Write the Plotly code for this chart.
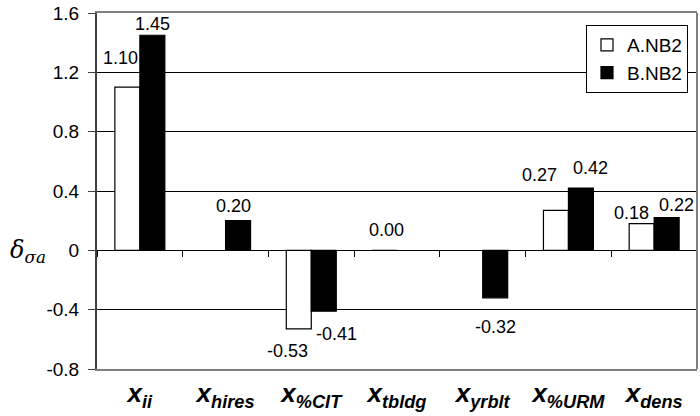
import plotly.graph_objects as go

categories = ["ii", "hires", "%CIT", "tbldg", "yrblt", "%URM", "dens"]
series_a_name = "A.NB2"
series_b_name = "B.NB2"
values_a = [1.10, None, -0.53, 0.00, None, 0.27, 0.18]
values_b = [1.45, 0.20, -0.41, None, -0.32, 0.42, 0.22]
y_ticks = [-0.8, -0.4, 0, 0.4, 0.8, 1.2, 1.6]
y_ticktext = ["-0.8", "-0.4", "0", "0.4", "0.8", "1.2", "1.6"]

# label offsets in pixels (xshift from category centre, yshift from bar end)
offs_a = [(-19, 29), None, (-24, -22), (-11, 20), None, (-29, 35), (-23, 11)]
offs_b = [(13, 11), (8, 15), (25, -23), None, (13, -29.5), (22, 20.5), (22, 13)]

FONT = "Liberation Sans, Arial, sans-serif"

ticktext = [f"<b><i>x</i></b><sub><b><i>{c}</i></b></sub>" for c in categories]

fig = go.Figure()
fig.add_trace(go.Bar(x=categories, y=values_a, name=series_a_name,
                     marker=dict(color="white", line=dict(color="black", width=1.2))))
fig.add_trace(go.Bar(x=categories, y=values_b, name=series_b_name,
                     marker=dict(color="black", line=dict(color="black", width=1.2))))
# helper invisible trace for the boundary ticks at zero line
fig.add_trace(go.Scatter(x=categories, y=[0]*len(categories), xaxis="x2", yaxis="y",
                         mode="markers", marker=dict(opacity=0), showlegend=False,
                         hoverinfo="skip"))

annotations = []
for vals, offs in ((values_a, offs_a), (values_b, offs_b)):
    for c, v, o in zip(categories, vals, offs):
        if v is None or o is None:
            continue
        annotations.append(dict(x=c, y=v, xref="x", yref="y", text=f"{v:.2f}",
                                showarrow=False, xshift=o[0], yshift=o[1],
                                xanchor="center", yanchor="middle",
                                font=dict(family=FONT, size=18, color="black")))
annotations.append(dict(x=-0.115, y=0, xref="paper", yref="y",
                        text="<i>δ</i><sub><i>σa</i></sub>", showarrow=False,
                        xanchor="center", yanchor="middle", yshift=-1,
                        font=dict(family="DejaVu Serif, serif", size=24, color="black")))

fig.update_layout(
    width=700, height=416,
    margin=dict(l=97, r=3, t=13, b=47),
    paper_bgcolor="white", plot_bgcolor="white",
    barmode="group", bargap=0.417, bargroupgap=0,
    font=dict(family=FONT, size=16, color="black"),
    showlegend=True,
    legend=dict(x=0.985, y=0.966, xanchor="right", yanchor="top",
                bgcolor="white", bordercolor="black", borderwidth=1,
                font=dict(family=FONT, size=19), tracegroupgap=2,
                itemwidth=30),
    annotations=annotations,
    xaxis=dict(type="category", categoryorder="array", categoryarray=categories,
               tickvals=categories, ticktext=ticktext,
               tickfont=dict(family=FONT, size=26, color="black"),
               showline=True, mirror=True, linecolor="#808080", linewidth=2,
               ticks="", showgrid=False, zeroline=False),
    xaxis2=dict(type="category", overlaying="x", matches="x", anchor="free",
                position=1/3, side="bottom", tickson="boundaries",
                ticks="outside", ticklen=6, tickcolor="black", tickwidth=1,
                showticklabels=False, showline=False, showgrid=False, zeroline=False),
    yaxis=dict(range=[-0.8, 1.6], tickvals=y_ticks, ticktext=y_ticktext,
               tickfont=dict(family=FONT, size=19, color="black"),
               showgrid=True, gridcolor="black", gridwidth=1,
               zeroline=True, zerolinecolor="black", zerolinewidth=1.2,
               showline=True, linecolor="#404040", linewidth=2,
               ticks="outside", ticklen=7, tickcolor="#404040", tickwidth=1,
               ticklabelstandoff=5),
    shapes=[dict(type="line", xref="paper", yref="paper", x0=1, x1=1, y0=0, y1=1,
                 line=dict(color="#808080", width=2))],
)

fig.write_html("out.html")
